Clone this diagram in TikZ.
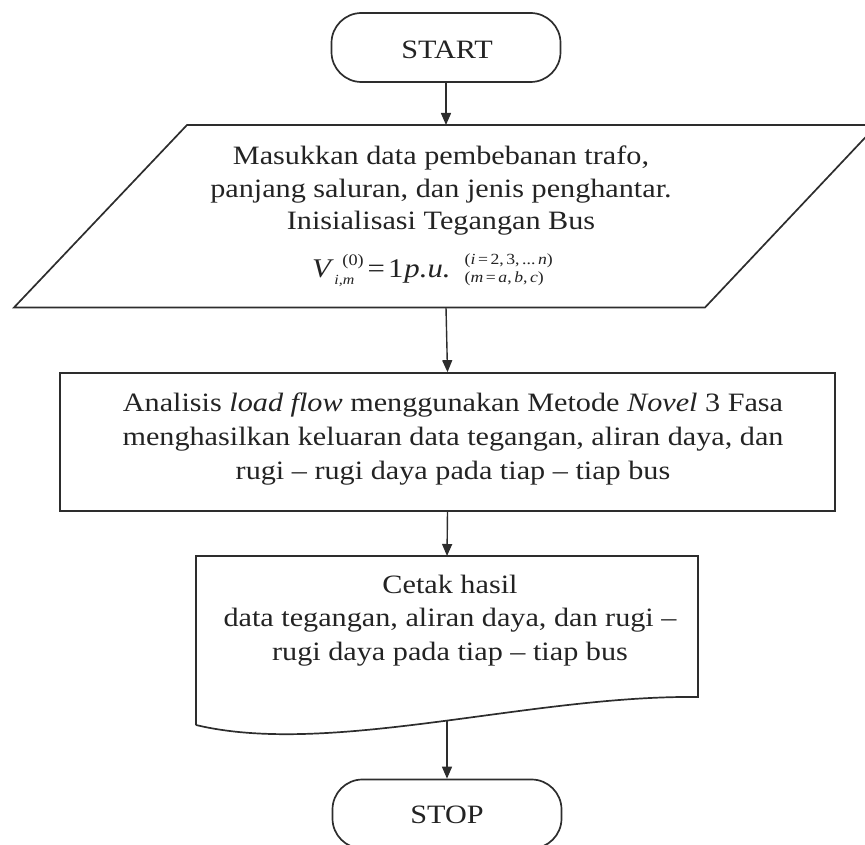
\documentclass[tikz,border=0pt]{standalone}
\usepackage{fontspec}
\setmainfont{Liberation Serif}[FakeStretch=1.14]
\usetikzlibrary{arrows.meta}
\definecolor{ink}{RGB}{45,45,45}
\definecolor{txt}{RGB}{35,35,35}
\tikzset{
  shapeline/.style={draw=ink, line width=1.7pt, line join=miter},
  flowarrow/.style={draw=ink, line width=1.4pt, -{Triangle[length=12pt,width=10pt]}},
  boxtext/.style={text=txt, align=center, inner sep=0pt, anchor=base, font=\fontsize{26.5}{33}\selectfont},
  terminal/.style={shapeline, rounded corners=30pt, minimum width=229pt, minimum height=69pt, inner sep=0pt, text=txt, font=\fontsize{26.5}{30}\selectfont}
}
\begin{document}
\begin{tikzpicture}[x=1pt,y=-1pt]
\useasboundingbox (0,0) rectangle (865,845);
% START
\node[terminal] (start) at (446,47.5) {};
\node[text=txt, inner sep=0pt, anchor=base, font=\fontsize{26.5}{30}\selectfont] (starttext) at (447,58.5) {START};
% input parallelogram
\coordinate (pTL) at (187,125);
\coordinate (pTR) at (877,125);
\coordinate (pBR) at (705,307.5);
\coordinate (pBL) at (14,307.5);
\draw[shapeline] (pTL) -- (pTR) -- (pBR) -- (pBL) -- cycle;
\coordinate (pin) at (446,125);
\coordinate (pout) at (446,307.5);
\node[boxtext] (input) at (441,230) {Masukkan data pembebanan trafo,\\panjang saluran, dan jenis penghantar.\\Inisialisasi Tegangan Bus};
\node[text=txt, inner sep=0pt, font=\fontsize{27}{30}\selectfont, anchor=base west] (formula) at (312,277)
 {\textit{V}\kern0.5pt\rlap{\raisebox{-0.6ex}{\fontsize{14}{14}\selectfont\textit{i,m}}}\kern8pt\raisebox{0.95ex}{\fontsize{16}{16}\selectfont(0)}\kern4pt=\kern3pt1\kern1pt\textit{p.u.}\kern14pt\raisebox{0.25ex}{\fontsize{15.5}{18}\selectfont\begin{tabular}{@{}l@{}}(\textit{i}\,=\,2,\,3,\,...\,\textit{n})\\(\textit{m}\,=\,\textit{a},\,\textit{b},\,\textit{c})\end{tabular}}};
% process rectangle
\node[shapeline, minimum width=775pt, minimum height=138pt, inner sep=0pt] (proc) at (447.5,442) {};
\node[boxtext, font=\fontsize{26.5}{34}\selectfont] (proctext) at (453,479) {Analisis \textit{load flow} menggunakan Metode \textit{Novel} 3 Fasa\\menghasilkan keluaran data tegangan, aliran daya, dan\\rugi -- rugi daya pada tiap -- tiap bus};
% document
\coordinate (dTL) at (196,556);
\coordinate (dTR) at (698,556);
\coordinate (dBR) at (698,697);
\coordinate (dBL) at (196,725);
\draw[shapeline] (dBL) -- (dTL) -- (dTR) -- (dBR) .. controls (530,695) and (330,757) .. (dBL);
\coordinate (din) at (447,556);
\coordinate (dout) at (447,720.5);
\node[boxtext, font=\fontsize{26.5}{33.5}\selectfont] (doctext) at (450,660) {Cetak hasil\\data tegangan, aliran daya, dan rugi --\\rugi daya pada tiap -- tiap bus};
% STOP
\node[terminal] (stop) at (447,814) {};
\node[text=txt, inner sep=0pt, anchor=base, font=\fontsize{26.5}{30}\selectfont] (stoptext) at (447,823) {STOP};
% connectors
\draw[flowarrow] (start.south) -- (pin);
\draw[flowarrow] (pout) -- (proc.north);
\draw[flowarrow] (proc.south) -- (din);
\draw[flowarrow] (dout) -- (stop.north);
\end{tikzpicture}
\end{document}
